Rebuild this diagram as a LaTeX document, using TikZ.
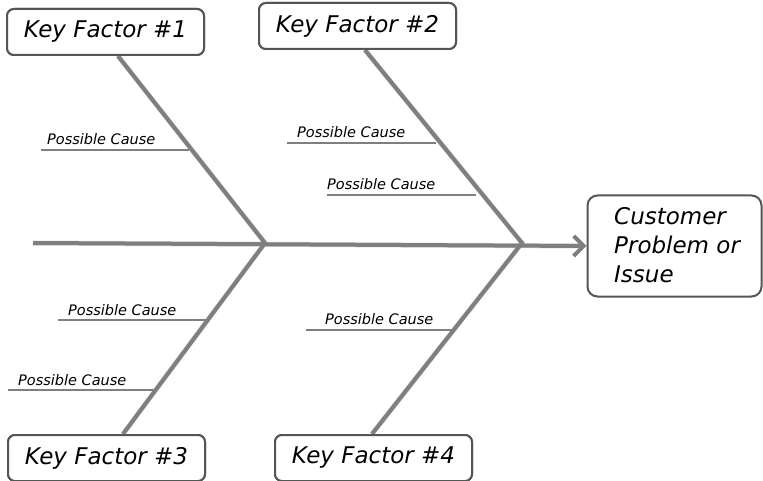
\documentclass[tikz,border=0pt]{standalone}
\usepackage{fontspec}
\setmainfont{DejaVu Sans}
\usetikzlibrary{arrows.meta}
\definecolor{bone}{HTML}{7F7F7F}
\definecolor{boxline}{HTML}{555555}
\tikzset{
  factor/.style={draw=boxline, line width=2pt, rounded corners=7pt, fill=white,
    minimum width=197pt, minimum height=46pt, inner sep=0pt,
    font=\fontsize{23}{26}\selectfont\itshape},
  bonestyle/.style={draw=bone, line width=4pt},
  boneshadow/.style={draw=black!15, line width=5pt, shift={(1.8pt,1.8pt)}},
  causetext/.style={inner sep=0pt, font=\fontsize{14.5}{16}\selectfont\itshape},
  causeline/.style={draw=bone, line width=1.3pt},
}
\begin{document}
\begin{tikzpicture}[x=1pt,y=-1pt]
\useasboundingbox (0,0) rectangle (763,481);
% joints and spine start
\coordinate (start) at (33,243);
\coordinate (j1) at (265,243);
\coordinate (j2) at (522,243);
% boxes (drawn first for anchors)
\node[factor] (kf1) at (105.5,32) {};
\node[factor] (kf2) at (357.5,26) {};
\node[factor] (kf3) at (106.5,458) {};
\node[factor] (kf4) at (373.5,458) {};
\node[draw=boxline, line width=2pt, rounded corners=10pt, fill=white,
  minimum width=174pt, minimum height=101pt, inner sep=0pt] (cust) at (674.5,246) {};
\node[anchor=west, align=left, inner sep=0pt,
  font=\fontsize{23}{29}\selectfont\itshape] (custtext) at (614,245) {Customer\\Problem or\\Issue};
% bone end points
\coordinate (b1) at ([xshift=12.5pt]kf1.south);
\coordinate (b2) at ([xshift=7.5pt]kf2.south);
\coordinate (b3) at ([xshift=16.5pt]kf3.north);
\coordinate (b4) at ([xshift=-1.5pt]kf4.north);
% shadows
\draw[boneshadow] (b1) -- (j1) -- (b3);
\draw[boneshadow] (b2) -- (j2) -- (b4);
\draw[boneshadow] (start) -- ([xshift=-4pt]cust.west);
% bones
\draw[bonestyle] (b1) -- (j1) -- (b3);
\draw[bonestyle] (b2) -- (j2) -- (b4);
\draw[bonestyle, -{Straight Barb[length=10pt,width=20pt,line width=4pt]}] (start) -- (cust.west);
% boxes on top, with their texts
\node[factor] (kf1t) at (kf1) {Key Factor \#1};
\node[factor] (kf2t) at (kf2) {Key Factor \#2};
\node[factor] (kf3t) at (kf3) {Key Factor \#3};
\node[factor] (kf4t) at (kf4) {Key Factor \#4};
% causes
\node[causetext, anchor=base west] (c1) at (47,145) {Possible Cause};
\coordinate (c1a) at (41,150); \coordinate (c1b) at (189,150);
\draw[causeline] (c1a) -- (c1b);
\node[causetext, anchor=base west] (c2) at (297,138) {Possible Cause};
\coordinate (c2a) at (287,143); \coordinate (c2b) at (436,143);
\draw[causeline] (c2a) -- (c2b);
\node[causetext, anchor=base west] (c3) at (327,190) {Possible Cause};
\coordinate (c3a) at (327,195); \coordinate (c3b) at (476,195);
\draw[causeline] (c3a) -- (c3b);
\node[causetext, anchor=base west] (c4) at (68,315) {Possible Cause};
\coordinate (c4a) at (58,320); \coordinate (c4b) at (207,320);
\draw[causeline] (c4a) -- (c4b);
\node[causetext, anchor=base west] (c5) at (18,385) {Possible Cause};
\coordinate (c5a) at (8,390); \coordinate (c5b) at (157,390);
\draw[causeline] (c5a) -- (c5b);
\node[causetext, anchor=base west] (c6) at (325,324) {Possible Cause};
\coordinate (c6a) at (306,330); \coordinate (c6b) at (454,330);
\draw[causeline] (c6a) -- (c6b);
\end{tikzpicture}
\end{document}
